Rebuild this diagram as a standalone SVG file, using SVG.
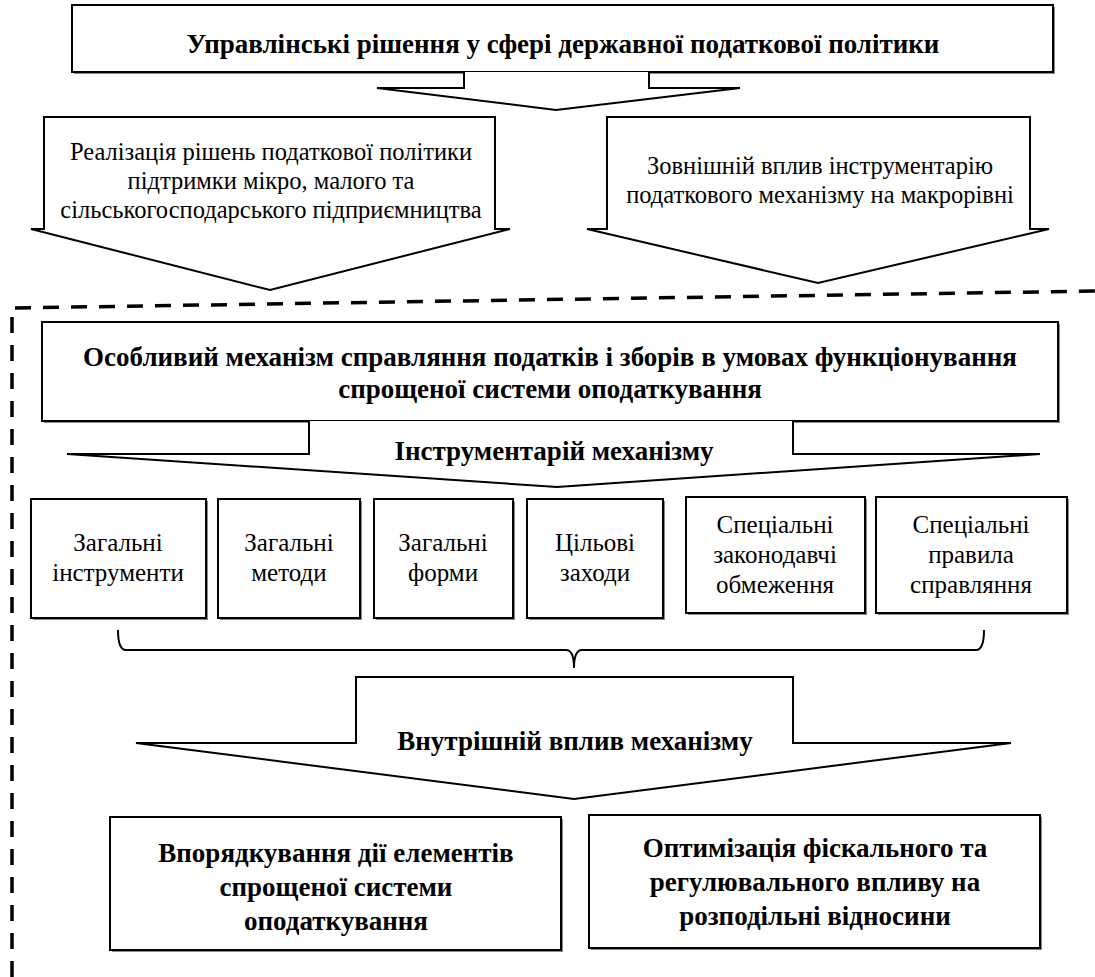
<svg xmlns="http://www.w3.org/2000/svg" width="1095" height="977" viewBox="0 0 1095 977">
<style>
.box{fill:#fff;stroke:#000;stroke-width:2}
.sh{fill:#888}
.arr{fill:#fff;stroke:#000;stroke-width:2;stroke-linejoin:miter}
.b{font-family:"Liberation Serif","Times New Roman",serif;font-weight:bold;font-size:27px;text-anchor:middle;fill:#000}
.r{font-family:"Liberation Serif","Times New Roman",serif;font-size:25px;text-anchor:middle;fill:#000}
.ra{font-family:"Liberation Serif","Times New Roman",serif;font-size:24.5px;text-anchor:middle;fill:#000}
.dash{fill:none;stroke:#000;stroke-width:3.5;stroke-dasharray:16 12}
</style>
<rect width="1095" height="977" fill="#fff"/>
<g id="connectors">
<path class="dash" d="M12,977 L12,308 L1095,291"/>
<path id="brace" d="M118,630 Q118,650 126,650 L566,650 Q574,650 574,668 Q574,650 582,650 L976,650 Q984,650 984,630" fill="none" stroke="#000" stroke-width="2"/>
</g>
<g id="n-top">
<rect class="sh" x="74" y="7" width="981" height="67"/>
<rect class="box" x="72" y="5" width="981" height="67"/>
<text class="b" x="563" y="53">Управлінські рішення у сфері державної податкової політики</text>
</g>
<g id="a-top">
<path class="arr" d="M464,72 L464,88 L377,88 L556,110 L740,88 L649,88 L649,72"/>
</g>
<g id="a-left">
<path class="arr" d="M44,229 L44,117 L495,117 L495,229 L510,229 L270,290 L31,229 Z"/>
<text class="ra" x="271" y="160">Реалізація рішень податкової політики</text>
<text class="ra" x="271" y="189">підтримки мікро, малого та</text>
<text class="ra" x="271" y="218">сільськогосподарського підприємництва</text>
</g>
<g id="a-right">
<path class="arr" d="M607,229 L607,117 L1030,117 L1030,229 L1049,229 L818,283 L587,229 Z"/>
<text class="ra" x="820" y="174">Зовнішній вплив інструментарію</text>
<text class="ra" x="820" y="203">податкового механізму на макрорівні</text>
</g>
<g id="n-mech">
<rect class="sh" x="44" y="324" width="1016" height="99"/>
<rect class="box" x="42" y="322" width="1016" height="99"/>
<text class="b" x="550" y="366">Особливий механізм справляння податків і зборів в умовах функціонування</text>
<text class="b" x="550" y="398">спрощеної системи оподаткування</text>
</g>
<g id="a-instr">
<path class="arr" d="M309,421 L309,454 L67,454 L557,487 L1040,454 L793,454 L793,421"/>
<text class="b" x="554" y="460">Інструментарій механізму</text>
</g>
<g id="n1">
<rect class="sh" x="33" y="501" width="175" height="119"/>
<rect class="box" x="31" y="499" width="175" height="119"/>
<text class="r" x="118" y="551">Загальні</text>
<text class="r" x="118" y="581">інструменти</text>
</g>
<g id="n2">
<rect class="sh" x="220" y="501" width="142" height="119"/>
<rect class="box" x="218" y="499" width="142" height="119"/>
<text class="r" x="289" y="551">Загальні</text>
<text class="r" x="289" y="581">методи</text>
</g>
<g id="n3">
<rect class="sh" x="376" y="501" width="139" height="119"/>
<rect class="box" x="374" y="499" width="139" height="119"/>
<text class="r" x="443" y="551">Загальні</text>
<text class="r" x="443" y="581">форми</text>
</g>
<g id="n4">
<rect class="sh" x="529" y="501" width="136" height="119"/>
<rect class="box" x="527" y="499" width="136" height="119"/>
<text class="r" x="595" y="551">Цільові</text>
<text class="r" x="595" y="581">заходи</text>
</g>
<g id="n5">
<rect class="sh" x="688" y="499" width="179" height="116"/>
<rect class="box" x="686" y="497" width="179" height="116"/>
<text class="r" x="775" y="533">Спеціальні</text>
<text class="r" x="775" y="563">законодавчі</text>
<text class="r" x="775" y="593">обмеження</text>
</g>
<g id="n6">
<rect class="sh" x="878" y="499" width="191" height="116"/>
<rect class="box" x="876" y="497" width="191" height="116"/>
<text class="r" x="971" y="533">Спеціальні</text>
<text class="r" x="971" y="563">правила</text>
<text class="r" x="971" y="593">справляння</text>
</g>
<g id="a-inner">
<path class="arr" d="M356,677 L356,743 L136,743 L574,799 L1011,743 L793,743 L793,677 Z"/>
<text class="b" x="575" y="750">Внутрішній вплив механізму</text>
</g>
<g id="n-order">
<rect class="sh" x="112" y="819" width="451" height="133"/>
<rect class="box" x="110" y="817" width="451" height="133"/>
<text class="b" x="336" y="862">Впорядкування дії елементів</text>
<text class="b" x="336" y="896">спрощеної системи</text>
<text class="b" x="336" y="930">оподаткування</text>
</g>
<g id="n-opt">
<rect class="sh" x="591" y="817" width="451" height="133"/>
<rect class="box" x="589" y="815" width="451" height="133"/>
<text class="b" x="815" y="857">Оптимізація фіскального та</text>
<text class="b" x="815" y="891">регулювального впливу на</text>
<text class="b" x="815" y="925">розподільні відносини</text>
</g>
</svg>
